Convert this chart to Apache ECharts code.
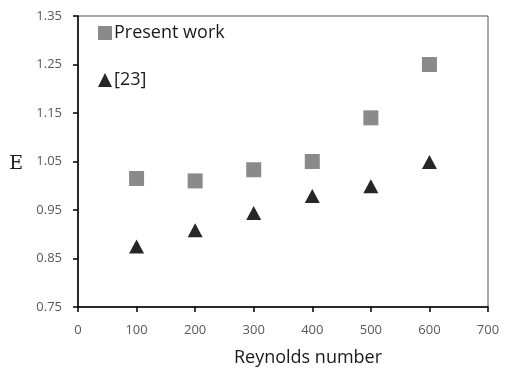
<!DOCTYPE html>
<html>
<head>
<meta charset="utf-8">
<script src="https://cdn.jsdelivr.net/npm/echarts@6/dist/echarts.min.js"></script>
<style>
  html, body { margin: 0; padding: 0; background: #fff; }
  #chart { width: 507px; height: 372px; }
</style>
</head>
<body>
<div id="chart"></div>
<script>
// Reynolds numbers and efficiency values
var reynolds = [100, 200, 300, 400, 500, 600];
var presentWork = [1.015, 1.01, 1.033, 1.05, 1.14, 1.25];
var ref23 = [0.875, 0.908, 0.944, 0.979, 0.999, 1.049];
var seriesNames = ['Present work', '[23]'];

function pairs(xs, ys) {
  return xs.map(function (x, i) { return [x, ys[i]]; });
}

var chart = echarts.init(document.getElementById('chart'), null, { renderer: 'canvas' });

var tickLabel = { color: '#595959', fontSize: 13, fontFamily: 'Open Sans' };

chart.setOption({
  animation: false,
  backgroundColor: '#ffffff',
  grid: {
    left: 78, top: 16, right: 19, bottom: 63,
    show: true, borderColor: '#555555', borderWidth: 1
  },
  legend: {
    orient: 'vertical',
    left: 93, top: 19,
    itemWidth: 14, itemHeight: 14,
    itemGap: 29,
    textStyle: { fontSize: 18, fontFamily: 'Open Sans', color: '#1a1a1a', padding: [0, 0, 0, -3] },
    data: [
      { name: seriesNames[0], icon: 'rect' },
      { name: seriesNames[1], icon: 'triangle' }
    ]
  },
  xAxis: {
    type: 'value', min: 0, max: 700, interval: 100,
    name: 'Reynolds number',
    nameLocation: 'middle', nameGap: 42,
    nameTextStyle: { fontSize: 18, fontFamily: 'Open Sans', color: '#1a1a1a', padding: [0, 0, 0, 50] },
    axisLine: { show: true, onZero: false, lineStyle: { color: '#000', width: 1.5 } },
    axisTick: { show: true, inside: false, length: 5, lineStyle: { color: '#000', width: 1.5 } },
    axisLabel: Object.assign({ margin: 17 }, tickLabel),
    splitLine: { show: false }
  },
  yAxis: {
    type: 'value', min: 0.75, max: 1.35, interval: 0.1,
    name: 'E',
    nameLocation: 'middle', nameGap: 55, nameRotate: 0,
    nameTextStyle: {
      fontSize: 19, fontFamily: 'DejaVu Serif', color: '#1a1a1a',
      verticalAlign: 'top', lineHeight: 6
    },
    axisLine: { show: true, onZero: false, lineStyle: { color: '#000', width: 1.5 } },
    axisTick: { show: true, inside: false, length: 5, lineStyle: { color: '#000', width: 1.5 } },
    axisLabel: Object.assign({ margin: 16, formatter: function (v) { return v.toFixed(2); } }, tickLabel),
    splitLine: { show: false }
  },
  series: [
    {
      name: seriesNames[0], type: 'scatter',
      symbol: 'rect', symbolSize: 15,
      itemStyle: { color: '#8a8a8a', opacity: 1 },
      data: pairs(reynolds, presentWork)
    },
    {
      name: seriesNames[1], type: 'scatter',
      symbol: 'triangle', symbolSize: [15, 14],
      itemStyle: { color: '#262626', opacity: 1 },
      data: pairs(reynolds, ref23)
    }
  ]
});
</script>
</body>
</html>
